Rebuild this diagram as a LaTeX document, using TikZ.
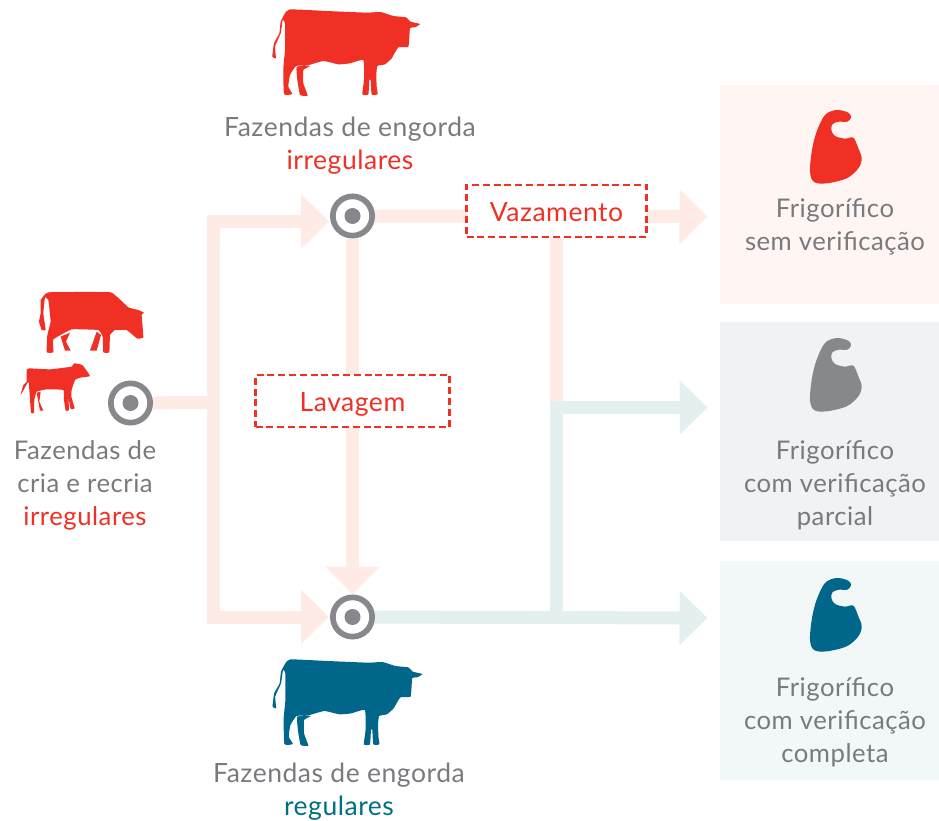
\documentclass[tikz,border=0pt]{standalone}
\usepackage{fontspec}
\setmainfont[LetterSpace=2]{Lato}
\usetikzlibrary{arrows.meta,backgrounds}
\definecolor{alert}{HTML}{F03024}
\definecolor{steel}{HTML}{87888C}
\definecolor{petrol}{HTML}{00678A}
\definecolor{okgreen}{HTML}{006F7F}
\definecolor{pinkpipe}{HTML}{FEEBE6}
\definecolor{tealpipe}{HTML}{E4F0EF}
\tikzset{
  pipe/.style={line width=13pt, draw=pinkpipe},
  tealp/.style={line width=13pt, draw=tealpipe},
  head/.style={-{Triangle[length=28pt,width=53pt]}},
  target/.style={circle, draw=steel, line width=5.7pt, inner sep=0pt, minimum size=39.3pt},
  leak/.style={draw=alert, line width=2.3pt, fill=white, text=alert,
    dash pattern=on 7pt off 3.8pt, minimum height=52pt, inner sep=0pt, text height=22pt, text depth=2pt},
  panel/.style={minimum width=219pt, minimum height=219pt, inner sep=0pt},
  caption/.style={align=center, text=steel!90!black, font=\fontsize{26.5}{33}\selectfont},
  small caption/.style={caption, font=\fontsize{25.7}{33}\selectfont},
  pics/bigcow/.style={code={
    \fill[#1] plot[smooth cycle, tension=0.25] coordinates {(90,28) (200,33) (320,38) (362,36) (400,48) (438,52) (452,65) (480,72) (465,82) (450,85) (445,140) (415,142) (395,175) (375,193) (352,198) (349,225) (350,260) (353,283) (335,283) (332,240) (328,240) (325,283) (307,283) (312,240) (310,180) (270,190) (235,193) (190,183) (140,197) (108,198) (90,225) (85,260) (97,282) (72,282) (70,205) (75,150) (75,70) (68,60) (62,100) (45,140) (48,175) (37,170) (42,130) (58,100) (62,65) (75,40)};
    \fill[#1] plot[smooth cycle, tension=0.2] coordinates {(110,200) (150,198) (130,210) (130,250) (143,287) (120,285) (112,240)};
  }},
  pics/grazer/.style={code={
    \fill[alert] plot[smooth cycle, tension=0.15] coordinates {(145,37) (332,37) (385,82) (415,90) (432,98) (425,105) (430,172) (412,176) (380,150) (345,150) (330,165) (328,217) (310,217) (308,170) (295,150) (215,148) (160,178) (160,217) (140,217) (142,165) (152,125) (145,60) (135,52) (130,100) (137,150) (125,150) (117,125) (122,100) (122,60)};
    \fill[alert] (182,170) -- (210,158) -- (198,185) -- (212,212) -- (195,212) -- cycle;
    \fill[alert] (290,155) -- (303,165) -- (290,212) -- (270,212) -- cycle;
  }},
  pics/calf/.style={code={
    \fill[alert] plot[smooth cycle, tension=0.2] coordinates {(88,265) (150,268) (215,260) (222,250) (247,255) (270,288) (240,293) (225,300) (215,330) (214,350) (224,385) (212,387) (205,352) (207,390) (197,392) (192,360) (190,330) (140,328) (110,335) (103,360) (102,398) (93,398) (88,330) (85,305) (62,345) (70,315) (80,305) (80,270)};
    \fill[alert] (110,338) -- (122,335) -- (118,365) -- (130,392) -- (120,392) -- cycle;
  }},
  pics/bag/.style={code={
    \fill[#1] plot[smooth cycle, tension=0.55] coordinates {(60,215) (66,150) (80,95) (105,45) (140,30) (175,38) (183,52) (172,65) (148,65) (128,72) (124,90) (135,108) (165,116) (190,113) (205,145) (215,175) (205,205) (170,235) (110,250) (72,246)};
  }},
}
\begin{document}
\begin{tikzpicture}[x=1pt, y=-1pt, font=\fontsize{26.5}{33}\selectfont]
\useasboundingbox (0,0) rectangle (939,821);

%% Place panels and nodes
\node [panel, fill=pinkpipe!50] (panelA) at (829.5,194.5) {};
\node [panel, fill={rgb,255:red,241;green,242;blue,244}] (panelB) at (829.5,431.5) {};
\node [panel, fill=tealpipe!50] (panelC) at (829.5,670.5) {};
\node [target] (targetA) at (352.5,216) {};
\node [target] (targetB) at (130.5,403) {};
\node [target] (targetC) at (352.5,617) {};
\node [leak, minimum width=180pt] (vazamento) at (556.5,211) {Vazamento};
\node [leak, minimum width=194pt] (lavagem) at (352.5,401) {Lavagem};

\coordinate (hub) at (213.5,402.5);
\coordinate (inA) at (329,221.5);
\coordinate (inC) at (329,617);
\coordinate (tipA) at (707.5,216.5);
\coordinate (tipB) at (707.5,407.5);
\coordinate (tipC) at (707.5,618);
\coordinate (split) at (556.5,407.5);
\coordinate (joint) at (556.5,618);

%% Draw pipes behind the boxes
\begin{scope}[on background layer]
\draw [pipe] (targetB) -- (hub);
\draw [pipe, head] (hub) |- (inA);
\draw [pipe, head] (hub) |- (inC);
\draw [pipe, head] (targetA) -- (targetC);
\draw [pipe, head] (targetA) -- (tipA);
\draw [pipe] (vazamento.south -| split) -- (split);
\draw [tealp, head] (targetC) -- (tipC);
\draw [tealp, head] (joint) |- (tipB);
\end{scope}

%% Dots in the targets
\foreach \t in {targetA,targetB,targetC}{
    \fill [steel] (\t) circle (8pt);
}

%% Cows
\pic at (260,0) [scale=1/3] {bigcow=alert};
\pic at (260,650) [scale=1/3, xscale=1.015] {bigcow=petrol};
\pic at (0,280) [scale=1/3] {grazer};
\pic at (0,280) [scale=1/3] {calf};

%% Bags
\pic at (790,100) [scale=1/3] {bag=alert};
\pic at (790,328) [scale=1/3] {bag=steel};
\pic at (790,568) [scale=1/3] {bag=petrol};

%% Captions
\node [caption] (fattenBad) at (350,145.5) {Fazendas de engorda\\{\color{alert}irregulares}};
\node [small caption] (rearing) at (85,485) {Fazendas de\\cria e recria\\{\color{alert}irregulares}};
\node [caption] (fattenOk) at (339,792) {Fazendas de engorda\\{\color{okgreen}regulares}};
\node [small caption] (plantA) at (835,226.5) {Frigorífico\\sem verificação};
\node [small caption] (plantB) at (835,485) {Frigorífico\\com verificação\\parcial};
\node [small caption] (plantC) at (835,722) {Frigorífico\\com verificação\\completa};
\end{tikzpicture}
\end{document}
